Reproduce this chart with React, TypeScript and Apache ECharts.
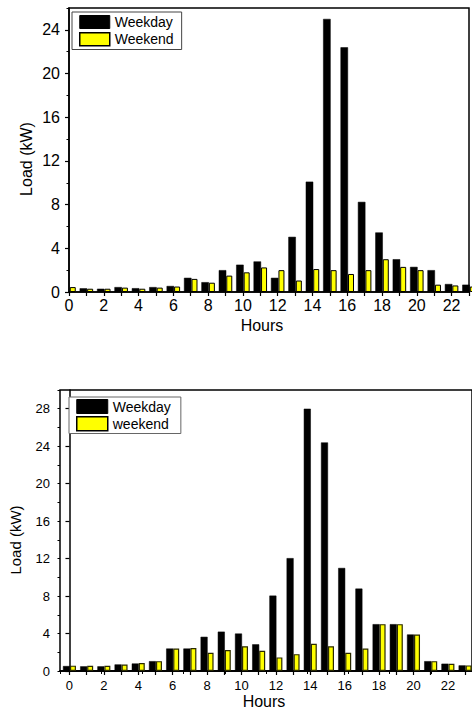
import React, { useEffect, useRef } from "react";
import * as echarts from "echarts";

const hours = [0, 1, 2, 3, 4, 5, 6, 7, 8, 9, 10, 11, 12, 13, 14, 15, 16, 17, 18, 19, 20, 21, 22, 23];
const evenHours = [0, 2, 4, 6, 8, 10, 12, 14, 16, 18, 20, 22];

// Top chart (hour-0 weekday bar is hidden behind the axis in the source, so it is left empty)
const weekdayA = [null, 0.34, 0.3, 0.45, 0.35, 0.45, 0.55, 1.3, 0.9, 2.0, 2.5, 2.8, 1.3, 5.05, 10.1, 25.0, 22.4, 8.25, 5.45, 3.0, 2.3, 2.0, 0.73, 0.67];
const weekendA = [0.45, 0.3, 0.3, 0.4, 0.3, 0.4, 0.5, 1.2, 0.85, 1.5, 1.8, 2.25, 2.0, 1.05, 2.1, 2.0, 1.65, 2.0, 3.0, 2.3, 2.0, 0.67, 0.6, 0.5];
const yTicksA = [0, 4, 8, 12, 16, 20, 24];

// Bottom chart
const weekdayB = [0.53, 0.5, 0.5, 0.7, 0.8, 1.05, 2.4, 2.4, 3.65, 4.2, 4.0, 2.85, 8.05, 12.05, 28.0, 24.4, 11.0, 8.8, 5.0, 5.0, 3.9, 1.05, 0.78, 0.6];
const weekendB = [0.57, 0.55, 0.55, 0.7, 0.85, 1.05, 2.4, 2.45, 1.95, 2.25, 2.65, 2.15, 1.45, 1.8, 2.9, 2.65, 1.95, 2.4, 5.0, 5.0, 3.9, 1.05, 0.78, 0.6];
const yTicksB = [0, 4, 8, 12, 16, 20, 24, 28];

const FONT = 'Arial, "Liberation Sans", sans-serif';

export default function App() {
  const ref = useRef<HTMLDivElement>(null);
  useEffect(() => {
    if (!ref.current) return;
    const chart = echarts.init(ref.current, undefined, { renderer: "svg" });
    const axisLine = { show: true, lineStyle: { color: "#000", width: 1.5 } };
    const pairs = (vals: (number | null)[]) => hours.map((h, i) => (vals[i] == null ? [h, "-"] : [h, vals[i]]));
    const option: any = {
      animation: false,
      backgroundColor: "#fff",
      textStyle: { fontFamily: FONT },
      grid: [
        { left: 69, top: 8, width: 402, height: 284, show: true, borderColor: "#000", borderWidth: 1.5 },
        { left: 60, top: 390, width: 412, height: 281, show: true, borderColor: "#000", borderWidth: 1.5 },
      ],
      xAxis: [
        {
          type: "value", gridIndex: 0, min: 0, max: 23, interval: 1,
          axisLine, splitLine: { show: false },
          axisTick: { show: true, length: 4, lineStyle: { color: "#000", width: 1.2 } },
          axisLabel: {
            color: "#000", fontSize: 16, fontFamily: FONT, margin: 5,
            formatter: (v: number) => (v % 2 === 0 ? String(v) : ""),
          },
        },
        {
          type: "value", gridIndex: 1, min: -0.55, max: 23.4,
          axisLine, splitLine: { show: false },
          axisTick: { show: true, length: 4, customValues: hours, lineStyle: { color: "#000", width: 1.2 } },
          axisLabel: { color: "#000", fontSize: 13, fontFamily: FONT, margin: 8, customValues: evenHours },
        },
        {
          type: "value", gridIndex: 1, position: "top", min: 0, max: 10, interval: 1,
          axisLine, splitLine: { show: false },
          axisTick: { show: true, inside: true, length: 3, lineStyle: { color: "#000" } },
          axisLabel: { show: false },
        },
      ],
      yAxis: [
        {
          type: "value", gridIndex: 0, min: 0, max: 26,
          axisLine, splitLine: { show: false },
          axisTick: { show: true, length: 4, customValues: yTicksA, lineStyle: { color: "#000", width: 1.2 } },
          axisLabel: { color: "#000", fontSize: 16, fontFamily: FONT, margin: 9, customValues: yTicksA },
        },
        {
          type: "value", gridIndex: 0, min: 0, max: 26, interval: 2, position: "left",
          axisLine: { show: false }, splitLine: { show: false },
          axisTick: { show: true, length: 2.5, lineStyle: { color: "#000" } },
          axisLabel: { show: false },
        },
        {
          type: "value", gridIndex: 1, min: 0, max: 30,
          axisLine, splitLine: { show: false },
          axisTick: { show: true, length: 4, customValues: yTicksB, lineStyle: { color: "#000", width: 1.2 } },
          axisLabel: { color: "#000", fontSize: 13, fontFamily: FONT, margin: 10, customValues: yTicksB },
        },
        {
          type: "value", gridIndex: 1, min: 0, max: 30, interval: 2, position: "left",
          axisLine: { show: false }, splitLine: { show: false },
          axisTick: { show: true, length: 2.5, lineStyle: { color: "#000" } },
          axisLabel: { show: false },
        },
      ],
      legend: [
        {
          orient: "vertical", left: 72, top: 12, padding: [3, 8, 3, 7],
          itemWidth: 30, itemHeight: 13, itemGap: 3,
          borderColor: "#444", borderWidth: 1, backgroundColor: "#fff",
          textStyle: { color: "#000", fontSize: 14, fontFamily: FONT },
          data: [
            { name: "Weekday", icon: "rect", itemStyle: { color: "#000", borderColor: "#000", borderWidth: 1 } },
            { name: "Weekend", icon: "rect", itemStyle: { color: "#ffff00", borderColor: "#000", borderWidth: 1.5 } },
          ],
        },
        {
          orient: "vertical", left: 69, top: 397, padding: [2, 10, 2, 7],
          itemWidth: 31, itemHeight: 14, itemGap: 2,
          borderColor: "#666", borderWidth: 1, backgroundColor: "#fff",
          textStyle: { color: "#000", fontSize: 14, fontFamily: FONT },
          data: [
            { name: "Weekday", icon: "rect", itemStyle: { color: "#000", borderColor: "#000", borderWidth: 1 } },
            { name: "weekend", icon: "rect", itemStyle: { color: "#ffff00", borderColor: "#000", borderWidth: 1.5 } },
          ],
        },
      ],
      graphic: [
        { type: "text", x: 26, y: 159, rotation: Math.PI / 2, style: { text: "Load (kW)", fill: "#000", font: `16px ${FONT}`, textAlign: "center", textVerticalAlign: "middle" } },
        { type: "text", x: 262, y: 325, style: { text: "Hours", fill: "#000", font: `16px ${FONT}`, textAlign: "center", textVerticalAlign: "middle" } },
        { type: "text", x: 15, y: 540, rotation: Math.PI / 2, style: { text: "Load (kW)", fill: "#000", font: `15px ${FONT}`, textAlign: "center", textVerticalAlign: "middle" } },
        { type: "text", x: 264, y: 701, style: { text: "Hours", fill: "#000", font: `16px ${FONT}`, textAlign: "center", textVerticalAlign: "middle" } },
      ],
      series: [
        {
          type: "bar", name: "Weekday", xAxisIndex: 0, yAxisIndex: 0, barWidth: 7.5, barGap: "0%", clip: true,
          data: pairs(weekdayA),
          itemStyle: { color: "#000", borderColor: "#000", borderWidth: 0.5 },
        },
        {
          type: "bar", name: "Weekend", xAxisIndex: 0, yAxisIndex: 0, barWidth: 6, barGap: "0%", clip: true,
          data: pairs(weekendA),
          itemStyle: { color: "#ffff00", borderColor: "#000", borderWidth: 1 },
        },
        {
          type: "bar", name: "Weekday", xAxisIndex: 1, yAxisIndex: 2, barWidth: 7, barGap: "0%", clip: true,
          data: pairs(weekdayB),
          itemStyle: { color: "#000", borderColor: "#000", borderWidth: 0.5 },
        },
        {
          type: "bar", name: "weekend", xAxisIndex: 1, yAxisIndex: 2, barWidth: 6, barGap: "0%", clip: true,
          data: pairs(weekendB),
          itemStyle: { color: "#ffff00", borderColor: "#2b2b00", borderWidth: 1.2 },
        },
      ],
    };
    chart.setOption(option);
    return () => chart.dispose();
  }, []);
  return <div ref={ref} style={{ position: "absolute", left: 0, top: 0, width: 472, height: 711 }} />;
}
